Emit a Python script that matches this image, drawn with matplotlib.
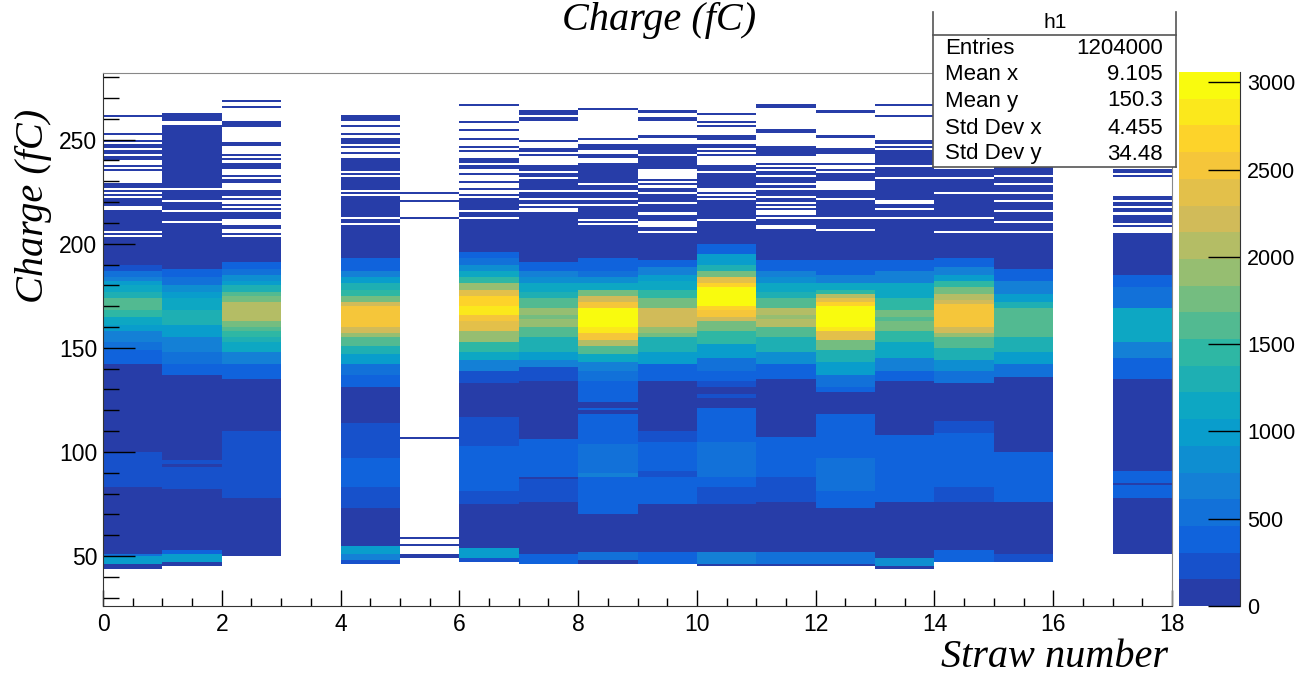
import numpy as np
import matplotlib
matplotlib.use("Agg")
import matplotlib.pyplot as plt
from matplotlib.colors import ListedColormap, BoundaryNorm
from matplotlib.ticker import MultipleLocator
from matplotlib.patches import Rectangle
from matplotlib.lines import Line2D

# entries per 1 fC charge bin, given as (charge_lo, charge_hi, entries), hi exclusive
straw_00 = [(261, 262, 3), (252, 253, 3), (249, 250, 3), (246, 248, 3), (243, 245, 3), (240, 242, 3),
            (237, 238, 3), (235, 236, 3), (227, 229, 3), (225, 226, 3), (223, 224, 3), (218, 222, 4),
            (214, 216, 4), (206, 214, 5), (204, 205, 5), (190, 203, 60),
            (187, 190, 230), (184, 187, 530), (182, 184, 760), (180, 182, 920), (177, 180, 1150),
            (174, 177, 1300), (171, 174, 1530), (168, 171, 1620), (165, 168, 1450), (161, 165, 1150),
            (158, 161, 1000), (153, 158, 760), (149, 153, 530), (142, 149, 380), (100, 142, 70),
            (83, 100, 230), (51, 83, 60), (50, 51, 530), (46, 50, 1000), (44, 46, 100)]
straw_01 = [(259, 263, 4), (227, 257, 6), (221, 226, 8), (216, 220, 8), (211, 215, 10), (188, 210, 60),
            (184, 188, 380), (180, 184, 600), (177, 180, 840), (174, 177, 1000), (168, 174, 1200),
            (161, 168, 1300), (155, 161, 1000), (148, 155, 760), (142, 148, 530), (137, 142, 380),
            (96, 137, 70), (94, 96, 230), (93, 94, 80), (82, 93, 230), (53, 82, 60), (51, 53, 380),
            (47, 51, 1000), (45, 47, 150)]
straw_02 = [(268, 269, 3), (265, 266, 3), (256, 259, 3), (247, 249, 3), (242, 243, 3), (240, 241, 3),
            (236, 239, 3), (232, 233, 3), (229, 231, 3), (223, 226, 4), (221, 222, 4), (218, 219, 4),
            (216, 217, 4), (212, 215, 5), (207, 209, 5), (204, 205, 5), (191, 203, 60),
            (188, 191, 380), (185, 188, 530), (182, 185, 840), (180, 182, 1000), (177, 180, 1300),
            (175, 177, 1530), (172, 175, 1830), (163, 172, 2060), (160, 163, 1830), (158, 160, 1600),
            (155, 158, 1450), (153, 155, 1300), (148, 153, 1080), (142, 148, 690), (135, 142, 450),
            (110, 135, 70), (92, 110, 300), (91, 92, 200), (78, 91, 300), (50, 78, 60)]
straw_03 = []
straw_04 = [(259, 262, 3), (256, 257, 3), (252, 253, 3), (248, 251, 3), (246, 247, 3), (243, 244, 3),
            (235, 241, 4), (233, 234, 4), (226, 232, 5), (224, 225, 5), (213, 223, 6), (210, 212, 6),
            (193, 209, 60),
            (187, 193, 380), (184, 187, 690), (181, 184, 1000), (178, 181, 1230), (175, 178, 1450),
            (172, 175, 1830), (170, 172, 2200), (160, 170, 2450), (157, 160, 2200), (155, 157, 1980),
            (151, 155, 1680), (147, 151, 1230), (142, 147, 920), (137, 142, 600), (131, 137, 380),
            (114, 131, 70), (113, 114, 250), (97, 113, 260), (83, 97, 400), (73, 83, 260),
            (55, 73, 60), (51, 55, 1000), (48, 51, 700), (46, 48, 300)]
straw_05 = [(224, 225, 2), (220, 221, 2), (212, 213, 2), (106, 107, 2), (58, 59, 2), (55, 56, 2),
            (49, 51, 20)]
straw_06 = [(266, 267, 3), (258, 259, 3), (254, 255, 3), (250, 251, 3), (246, 247, 3), (244, 245, 3),
            (239, 241, 3), (236, 238, 3), (233, 234, 4), (229, 230, 4), (226, 227, 4), (223, 224, 4),
            (216, 222, 5), (213, 215, 5), (196, 212, 60),
            (193, 196, 380), (190, 193, 530), (187, 190, 840), (184, 187, 1150), (181, 184, 1450),
            (178, 181, 1900), (175, 178, 2300), (170, 175, 2680), (166, 170, 2830), (163, 166, 2600),
            (158, 163, 2300), (153, 158, 1900), (148, 153, 1500), (144, 148, 1080), (139, 144, 690),
            (133, 139, 230), (117, 133, 70), (115, 117, 230), (103, 115, 300), (81, 103, 420),
            (75, 81, 250), (54, 75, 60), (49, 54, 1000), (47, 49, 200)]
straw_07 = [(262, 264, 3), (259, 261, 3), (249, 250, 3), (244, 246, 3), (242, 243, 3), (235, 238, 4),
            (232, 234, 4), (226, 231, 4), (222, 225, 5), (219, 221, 5), (217, 218, 5), (191, 215, 60),
            (187, 191, 380), (184, 187, 690), (181, 184, 840), (177, 181, 1150), (174, 177, 1300),
            (169, 174, 1600), (166, 169, 1910), (164, 166, 1760), (160, 164, 1910), (155, 160, 1600),
            (148, 155, 1300), (144, 148, 1000), (141, 144, 690), (134, 141, 230),
            (106, 134, 70), (88, 106, 400), (87, 88, 100), (76, 87, 250), (51, 76, 60), (46, 51, 350)]
straw_08 = [(264, 265, 3), (250, 251, 3), (245, 248, 3), (241, 243, 3), (229, 239, 4), (226, 228, 4),
            (222, 225, 5), (219, 221, 5), (212, 218, 6), (210, 211, 6), (193, 209, 60),
            (187, 193, 380), (184, 187, 600), (181, 184, 900), (178, 181, 1200), (175, 178, 1700),
            (172, 175, 2200), (169, 172, 2600), (160, 169, 3000), (157, 160, 2800), (154, 157, 2450),
            (151, 154, 2100), (147, 151, 1680), (143, 147, 1080), (139, 143, 760), (134, 139, 530),
            (124, 134, 380), (121, 124, 100), (120, 121, 380), (118, 120, 100), (104, 118, 380),
            (90, 104, 530), (88, 90, 690), (80, 88, 380), (70, 80, 450), (52, 70, 60), (48, 52, 530),
            (46, 48, 100)]
straw_09 = [(263, 264, 3), (259, 261, 3), (251, 252, 3), (243, 248, 3), (236, 242, 4), (230, 231, 4),
            (228, 229, 4), (225, 227, 4), (220, 224, 5), (215, 219, 5), (211, 214, 6), (206, 208, 6),
            (192, 205, 60),
            (189, 192, 380), (185, 189, 690), (182, 185, 920), (178, 182, 1150), (174, 178, 1450),
            (169, 174, 1830), (160, 169, 2200), (157, 160, 1910), (155, 157, 1750), (148, 155, 1300),
            (142, 148, 920), (134, 142, 450), (110, 134, 70),
            (105, 110, 230), (91, 105, 380), (88, 91, 230), (75, 88, 380), (52, 75, 60), (46, 52, 330)]
straw_10 = [(262, 263, 3), (258, 259, 3), (256, 257, 3), (250, 252, 3), (246, 248, 3), (244, 245, 3),
            (242, 243, 3), (235, 238, 4), (227, 234, 4), (224, 225, 5), (222, 223, 5), (212, 221, 6),
            (200, 211, 60),
            (195, 200, 450), (190, 195, 920), (187, 190, 1300), (184, 187, 1800), (181, 184, 2300),
            (179, 181, 2650), (170, 179, 2950), (168, 170, 2750), (165, 168, 2500), (163, 165, 2200),
            (158, 163, 1830), (152, 158, 1380), (145, 152, 920), (139, 145, 600),
            (134, 139, 380), (131, 134, 230), (128, 131, 70), (126, 128, 230), (121, 126, 70),
            (105, 121, 380), (88, 105, 530), (83, 88, 380), (75, 83, 230), (52, 75, 60),
            (46, 52, 760), (45, 46, 100)]
straw_11 = [(265, 267, 3), (253, 255, 3), (242, 247, 3), (238, 239, 4), (236, 237, 4), (233, 235, 4),
            (229, 232, 4), (227, 228, 4), (223, 226, 5), (220, 222, 5), (218, 219, 5), (216, 217, 5),
            (213, 214, 6), (209, 212, 6), (192, 207, 60),
            (187, 192, 380), (184, 187, 690), (181, 184, 840), (177, 181, 1150), (174, 177, 1300),
            (169, 174, 1680), (166, 169, 2000), (164, 166, 1850), (160, 164, 2000), (155, 160, 1600),
            (148, 155, 1230), (142, 148, 840), (135, 142, 450), (107, 135, 70),
            (88, 107, 380), (76, 88, 250), (52, 76, 60), (46, 52, 600), (45, 46, 100)]
straw_12 = [(263, 264, 3), (251, 252, 3), (243, 246, 3), (238, 239, 3), (235, 236, 4), (230, 234, 4),
            (222, 226, 5), (213, 221, 5), (207, 212, 6), (192, 206, 60),
            (185, 192, 450), (181, 185, 760), (178, 181, 1080), (176, 178, 1500), (174, 176, 2000),
            (172, 174, 2300), (170, 172, 2700), (160, 170, 3000), (158, 160, 2800),
            (154, 158, 2370), (149, 154, 1830), (143, 149, 1300), (137, 143, 920), (131, 137, 530),
            (129, 131, 380), (118, 129, 70), (97, 118, 350), (81, 97, 530), (73, 81, 350),
            (52, 73, 60), (46, 52, 600), (45, 46, 100)]
straw_13 = [(266, 267, 3), (261, 262, 3), (248, 250, 3), (246, 247, 3), (238, 245, 4), (232, 237, 4),
            (221, 231, 5), (217, 219, 5), (213, 216, 6), (192, 212, 60),
            (187, 192, 380), (181, 187, 760), (174, 181, 1080), (168, 174, 1450), (165, 168, 1830),
            (163, 165, 1680), (158, 163, 1830), (153, 158, 1450), (145, 153, 1080), (139, 145, 690),
            (134, 139, 450), (108, 134, 70), (76, 108, 350), (49, 76, 60), (45, 49, 840), (44, 45, 100)]
straw_14 = [(255, 256, 3), (250, 251, 3), (245, 248, 3), (240, 243, 4), (232, 236, 4), (225, 231, 5),
            (213, 224, 5), (206, 212, 6), (193, 205, 60),
            (189, 193, 380), (185, 189, 760), (182, 185, 1000), (179, 182, 1450), (176, 179, 1750),
            (173, 176, 2060), (171, 173, 2220), (160, 171, 2450), (157, 160, 2200), (155, 157, 1980),
            (150, 155, 1600), (144, 150, 1230), (139, 144, 840), (133, 139, 530),
            (115, 133, 70), (109, 115, 230), (83, 109, 450), (76, 83, 300), (53, 76, 60), (47, 53, 350)]
straw_15 = [(250, 251, 3), (244, 247, 3), (238, 241, 3), (233, 237, 4), (229, 232, 4), (225, 228, 4),
            (221, 224, 5), (216, 220, 5), (211, 215, 6), (206, 210, 6), (188, 205, 60),
            (182, 188, 380), (176, 182, 690), (172, 176, 1000), (169, 172, 1230), (155, 169, 1530),
            (148, 155, 1230), (142, 148, 920), (136, 142, 530), (100, 136, 70), (76, 100, 330),
            (51, 76, 60), (47, 51, 250)]
straw_16 = []
straw_17 = [(240, 242, 3), (234, 236, 3), (232, 233, 3), (221, 223, 4), (218, 220, 4), (215, 217, 5),
            (210, 214, 5), (208, 209, 6), (185, 205, 60),
            (179, 185, 380), (169, 179, 600), (153, 169, 1080), (145, 153, 760), (135, 145, 450),
            (91, 135, 70), (85, 91, 330), (84, 85, 100), (78, 84, 330), (51, 78, 60)]

straws = [straw_00, straw_01, straw_02, straw_03, straw_04, straw_05, straw_06, straw_07, straw_08,
          straw_09, straw_10, straw_11, straw_12, straw_13, straw_14, straw_15, straw_16, straw_17]

stat_names = ["Entries", "Mean x", "Mean y", "Std Dev x", "Std Dev y"]
stat_values = ["1204000", "9.105", "150.3", "4.455", "34.48"]
z_ticks = [0, 500, 1000, 1500, 2000, 2500, 3000]

# fill the 2D histogram
x_edges = np.arange(0, 19)
y_edges = np.arange(0, 301)
H = np.zeros((300, 18))
for ix, segs in enumerate(straws):
    for lo, hi, n in segs:
        H[lo:hi, ix] = n
H = np.ma.masked_equal(H, 0)

# ROOT kBird palette, 20 contour levels
stops = [0.0, 0.125, 0.25, 0.375, 0.5, 0.625, 0.75, 0.875, 1.0]
red = [0.2082, 0.0592, 0.0780, 0.0232, 0.1802, 0.5301, 0.8186, 0.9956, 0.9764]
green = [0.1664, 0.3599, 0.5041, 0.6419, 0.7178, 0.7492, 0.7328, 0.7862, 0.9832]
blue = [0.5293, 0.8684, 0.8385, 0.7914, 0.6425, 0.4662, 0.3499, 0.1968, 0.0539]
ncont = 20
frac = [int((i + 0.99) * 255 / ncont) / 254 for i in range(ncont)]
cols = np.column_stack([np.interp(frac, stops, red), np.interp(frac, stops, green),
                        np.interp(frac, stops, blue)])
cmap = ListedColormap(cols)
zmax = 3060
norm = BoundaryNorm(np.linspace(0, zmax, ncont + 1), ncont)

W, Hpx = 1296, 676
fig = plt.figure(figsize=(W / 100, Hpx / 100), dpi=100)
ax = fig.add_axes([103 / W, 1 - 606 / Hpx, 1069 / W, 533 / Hpx])
mesh = ax.pcolormesh(x_edges, y_edges, H, cmap=cmap, norm=norm, shading="flat",
                     edgecolors="none", antialiased=False)
ax.set_xlim(0, 18)
ax.set_ylim(26, 282)

sans = "Liberation Sans"
serif = "Liberation Serif"
ax.xaxis.set_major_locator(MultipleLocator(2))
ax.xaxis.set_minor_locator(MultipleLocator(0.5))
ax.yaxis.set_major_locator(MultipleLocator(50))
ax.yaxis.set_minor_locator(MultipleLocator(10))
ax.tick_params(axis="x", which="major", direction="in", length=11.5, width=1, pad=5)
ax.tick_params(axis="x", which="minor", direction="in", length=5.5, width=1)
ax.tick_params(axis="y", which="major", direction="in", length=23, width=1, pad=4)
ax.tick_params(axis="y", which="minor", direction="in", length=11.5, width=1)
for lab in ax.get_xticklabels() + ax.get_yticklabels():
    lab.set_fontfamily(sans)
    lab.set_fontsize(16.5)
for side in ["top", "right"]:
    ax.spines[side].set_color("#888888")
for side in ["left", "bottom"]:
    ax.spines[side].set_color("#333333")

# palette axis
cax = fig.add_axes([1179 / W, 1 - 606 / Hpx, 61 / W, 534 / Hpx])
cb = fig.colorbar(mesh, cax=cax, ticks=z_ticks)
cb.outline.set_visible(False)
cax.spines["right"].set_visible(True)
cax.spines["right"].set_color("#333333")
cax.tick_params(direction="in", length=23, width=1, pad=5, labelsize=15.5)
for lab in cax.get_yticklabels():
    lab.set_fontfamily(sans)
cax.minorticks_off()

# titles
fig.text(659 / W, 1 - 30 / Hpx, "Charge (fC)", ha="center", va="baseline",
         fontfamily=serif, style="italic", fontsize=29)
fig.text(1168 / W, 1 - 667 / Hpx, "Straw number", ha="right", va="baseline",
         fontfamily=serif, style="italic", fontsize=29)
fig.text(34 / W, 1 - 206 / Hpx, "Charge (fC)", ha="center", va="center", rotation=90,
         fontfamily=serif, style="italic", fontsize=29)

# statistics box
def fx(x):
    return x / W


def fy(y):
    return 1 - y / Hpx


fig.add_artist(Rectangle((fx(933), fy(167)), fx(1176) - fx(933), fy(0) - fy(167),
                         transform=fig.transFigure, facecolor="white", edgecolor="none", zorder=5))
for xs, ys in [((933, 933), (12, 167)), ((1176, 1176), (12, 167)), ((933, 1176), (167, 167)),
               ((933, 1176), (34.5, 34.5))]:
    fig.add_artist(Line2D([fx(v) for v in xs], [fy(v) for v in ys], transform=fig.transFigure,
                          color="#555555", lw=1.2, zorder=6))
fig.text(fx(1055), fy(22), "h1", ha="center", va="center", fontfamily=sans, fontsize=15, zorder=7)
row_y = [49, 75, 101, 128, 154]
for name, val, y in zip(stat_names, stat_values, row_y):
    fig.text(fx(945), fy(y), name, ha="left", va="center", fontfamily=sans, fontsize=16, zorder=7)
    fig.text(fx(1163), fy(y), val, ha="right", va="center", fontfamily=sans, fontsize=16, zorder=7)

fig.savefig("out.png", dpi=100)
